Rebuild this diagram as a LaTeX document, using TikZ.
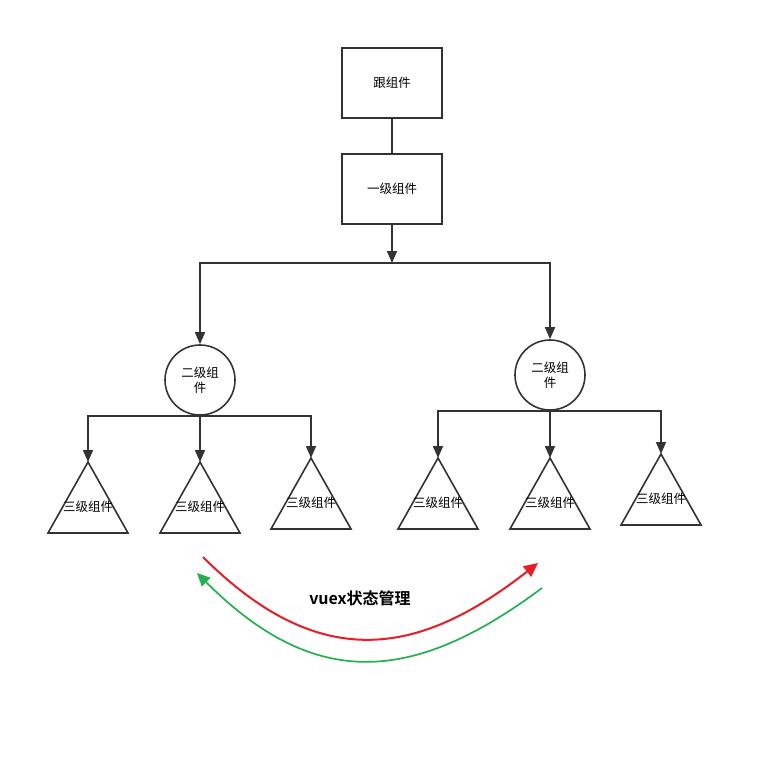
\documentclass[tikz,border=0pt]{standalone}
\usepackage{fontspec}
\newfontfamily\cjk[BoldFont={Noto Sans CJK SC Bold}]{Noto Sans CJK SC}
\usepackage{tikz}
\usetikzlibrary{positioning,calc,arrows.meta}
\definecolor{linegray}{HTML}{333333}
\definecolor{vuexred}{HTML}{EC1C24}
\definecolor{vuexgreen}{HTML}{22B14C}
\tikzset{
  comp/.style={draw=linegray, line width=1.6pt},
  box/.style={comp, minimum width=100pt, minimum height=70pt, inner sep=0pt,
    font=\cjk\fontsize{12.5}{15}\selectfont},
  ball/.style={comp, circle, minimum size=70pt, inner sep=0pt, align=center,
    font=\cjk\fontsize{12.5}{14.5}\selectfont},
  lbl/.style={inner sep=0pt, font=\cjk\fontsize{12.5}{15}\selectfont},
  arr/.style={comp, -{Triangle[length=12pt,width=10pt]}}
}
\begin{document}
\begin{tikzpicture}[x=1pt,y=-1pt]
\useasboundingbox (0,0) rectangle (766,763);
% tree
\node[box] (root) at (392,83) {跟组件};
\node[box] (one) at (392,189) {一级组件};
\coordinate (split) at (392,263);
\node[ball] (twoL) at (200,380) {二级组\\件};
\node[ball] (twoR) at (550,375) {二级组\\件};
\draw[comp] (root) -- (one);
\draw[arr] (one) -- (split);
\draw[arr] (split) -| (twoL.north);
\draw[arr] (split) -| (twoR.north);
% third level
\foreach \n/\x/\y in {tA/88/462, tB/200/462, tC/311/458, tD/438/458, tE/550/458, tF/661/454} {
  \coordinate (\n) at (\x,\y);
  \draw[comp] (\n) -- ++(40,71) -- ++(-80,0) -- cycle;
  \node[lbl] at ($(\n)+(0,45)$) {三级组件};
}
\draw[arr] (twoL.south) -| (tA);
\draw[arr] (twoL.south) -- (tB);
\draw[arr] (twoL.south) -| (tC);
\draw[arr] (twoR.south) -| (tD);
\draw[arr] (twoR.south) -- (tE);
\draw[arr] (twoR.south) -| (tF);
% vuex
\coordinate (redS) at (203,557);
\coordinate (redE) at (538,563);
\coordinate (greenS) at (542,588);
\coordinate (greenE) at (197,573);
\draw[vuexred, line width=2pt, -{Triangle[length=14pt,width=13pt]}]
  (redS) .. controls (323,677) and (423,653) .. (redE);
\draw[vuexgreen, line width=1.7pt, -{Triangle[length=13pt,width=12pt]}]
  (greenS) .. controls (412,685) and (314,690) .. (greenE);
\node[inner sep=0pt, font=\cjk\bfseries\fontsize{16}{19}\selectfont] (vuex) at (360,598) {vuex状态管理};
\end{tikzpicture}
\end{document}
